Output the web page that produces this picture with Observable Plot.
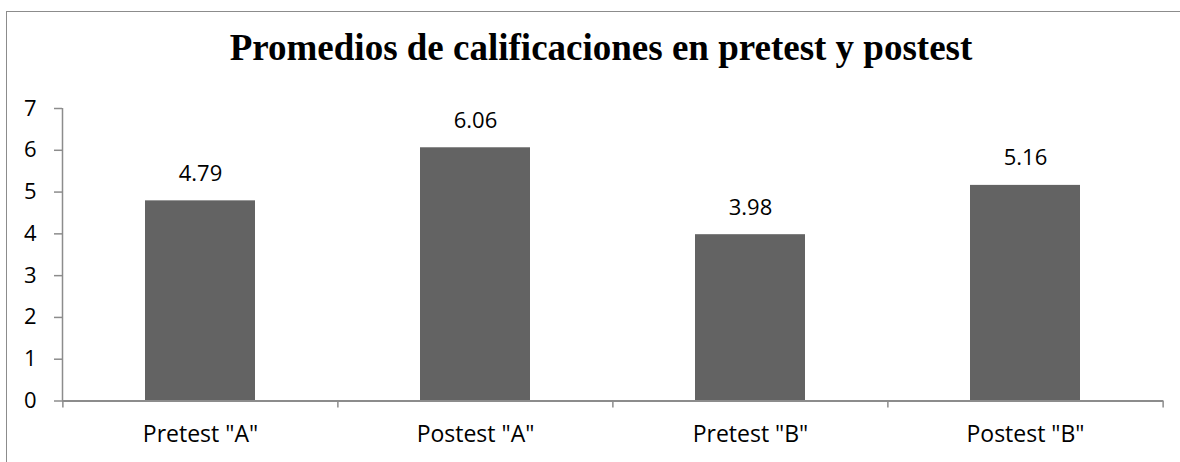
<!DOCTYPE html>
<html>
<head>
<meta charset="utf-8">
<script src="https://cdn.jsdelivr.net/npm/d3@7"></script>
<script src="https://cdn.jsdelivr.net/npm/@observablehq/plot@0.6"></script>
<style>
  html, body { margin: 0; padding: 0; background: #fff; width: 1180px; height: 462px; overflow: hidden; }
  #wrap { position: relative; width: 1180px; height: 462px; }
  #frame { position: absolute; left: 6px; top: 11px; width: 1300px; height: 600px; border: 1.5px solid #8c8c8c; box-sizing: border-box; }
  #title { position: absolute; left: 11px; top: 20px; width: 1180px; height: 55px; text-align: center;
           font-family: "Liberation Serif", "Times New Roman", serif; font-weight: bold; font-size: 37px;
           line-height: 55px; color: #000; }
  #chart { position: absolute; left: 0; top: 75px; }
  svg { font-family: "Open Sans", sans-serif; }
</style>
</head>
<body>
<div id="wrap">
  <div id="frame"></div>
  <div id="title">Promedios de calificaciones en pretest y postest</div>
  <div id="chart"></div>
</div>
<script>
const categories = ['Pretest "A"', 'Postest "A"', 'Pretest "B"', 'Postest "B"'];
const values = [4.79, 6.06, 3.98, 5.16];
const yTicks = [0, 1, 2, 3, 4, 5, 6, 7];

const data = categories.map((c, i) => ({category: c, value: values[i]}));

const W = 1180, H = 387;
const mL = 62, mR = 17, mT = 33, mB = 61.5;
const plotW = W - mL - mR;
const step = plotW / categories.length;
const axisColor = "#8c8c8c";

const chart = Plot.plot({
  width: W,
  height: H,
  marginLeft: mL,
  marginRight: mR,
  marginTop: mT,
  marginBottom: mB,
  style: {fontFamily: '"Open Sans", sans-serif', fontSize: "22px", color: "#000", background: "transparent"},
  x: {domain: categories, paddingInner: 0.6, paddingOuter: 0.3, label: null},
  y: {domain: [0, 7], label: null},
  marks: [
    Plot.barY(data, {x: "category", y: "value", fill: "#636363"}),
    Plot.axisY({ticks: yTicks, tickFormat: d => String(d), tickSize: 8, tickPadding: 18, stroke: axisColor, strokeWidth: 1.5, strokeOpacity: 1, fill: "#000", fontSize: 22, label: null}),
    Plot.ruleX([0], {x: null, dx: -plotW / 2, stroke: axisColor, strokeWidth: 1.5}),
    Plot.axisX({tickSize: 0, tickPadding: 25, fill: "#000", fontSize: 23, label: null}),
    Plot.ruleY([0], {stroke: axisColor, strokeWidth: 2}),
    Plot.ruleX(categories, {x: d => d, dx: -step / 2, insetTop: H - mT - mB, insetBottom: -7, stroke: axisColor, strokeWidth: 1.5}),
    Plot.ruleX(categories.slice(-1), {x: d => d, dx: step / 2, insetTop: H - mT - mB, insetBottom: -7, stroke: axisColor, strokeWidth: 1.5}),
    Plot.text(data, {x: "category", y: "value", text: d => d.value.toFixed(2), dy: -27, fontSize: 22, fill: "#000"})
  ]
});
document.getElementById("chart").appendChild(chart);
</script>
</body>
</html>
